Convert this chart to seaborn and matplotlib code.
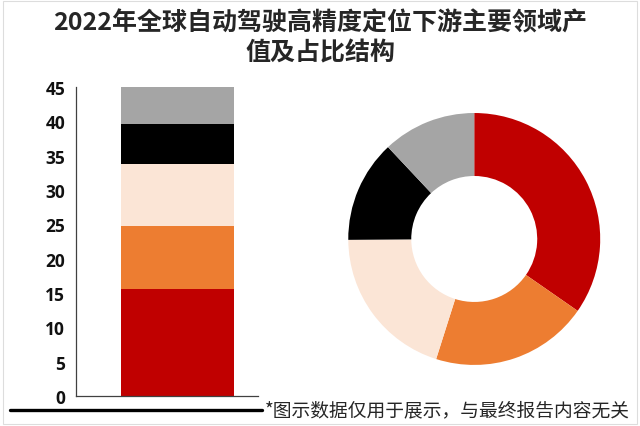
import matplotlib
matplotlib.use("Agg")
import matplotlib.pyplot as plt
import seaborn as sns
import numpy as np
import pandas as pd
from matplotlib.lines import Line2D
from matplotlib.patches import Rectangle

# Segment values (bottom to top of the stacked bar / clockwise in the donut)
segments = ["领域1", "领域2", "领域3", "领域4", "领域5"]
values = [15.6, 9.1, 9.0, 5.9, 5.4]
colors = ["#C00000", "#ED7D31", "#FBE5D6", "#000000", "#A5A5A5"]
y_ticks = [0, 5, 10, 15, 20, 25, 30, 35, 40, 45]

title = "2022年全球自动驾驶高精度定位下游主要领域产\n值及占比结构"
note = "*图示数据仅用于展示，与最终报告内容无关"

sns.set_style("white")
plt.rcParams['font.family'] = ['Noto Sans CJK SC', 'DejaVu Sans']

fig = plt.figure(figsize=(6.4, 4.27), dpi=100)

# Stacked bar: draw cumulative totals from tallest to shortest
ax = fig.add_axes([0.119, 0.0703, 0.284, 0.724])
cum = np.cumsum(values)
for i in range(len(values) - 1, -1, -1):
    df = pd.DataFrame({"x": ["2022"], "y": [cum[i]]})
    sns.barplot(data=df, x="x", y="y", color=colors[i], saturation=1,
                width=0.8, ax=ax, edgecolor="none")
ax.set_xlim(-0.719, 0.569)
ax.set_ylim(0, 45)
ax.set_yticks(y_ticks)
ax.set_yticklabels([str(t) for t in y_ticks], fontsize=12.5, fontweight="bold",
                   family=["Open Sans", "DejaVu Sans"], color="#111111")
ax.set_xticks([])
ax.set_xlabel("")
ax.set_ylabel("")
ax.tick_params(axis="y", direction="out", length=5, width=0.8, color="#404040", pad=3)
for s in ["top", "right"]:
    ax.spines[s].set_visible(False)
ax.spines["left"].set_color("#404040")
ax.spines["bottom"].set_color("#404040")
ax.spines["left"].set_linewidth(0.9)
ax.spines["bottom"].set_linewidth(0.9)

# Donut
ax2 = fig.add_axes([0.544, 0.143, 0.394, 0.590])
ax2.pie(values, colors=colors, startangle=90, counterclock=False,
        wedgeprops=dict(width=0.5, edgecolor="none"))
ax2.set_xlim(-1, 1)
ax2.set_ylim(-1, 1)
ax2.set_aspect("equal")
ax2.axis("off")

# Title
fig.text(0.5, 1 - 38 / 427, title, ha="center", va="center", fontsize=18,
         fontweight="bold", linespacing=1.3)

# Footer line and note
fig.add_artist(Line2D([10 / 640, 262 / 640], [1 - 411 / 427, 1 - 411 / 427],
                      color="black", linewidth=2.4, transform=fig.transFigure))
fig.text(265 / 640, 1 - 411 / 427, note, ha="left", va="center", fontsize=13.5)

# light frame around the picture
fig.add_artist(Rectangle((0.004, 0.004), 0.992, 0.992, transform=fig.transFigure,
                         fill=False, edgecolor="#DDDDDD", linewidth=0.8))

plt.savefig("out.png", dpi=100)
plt.close()
